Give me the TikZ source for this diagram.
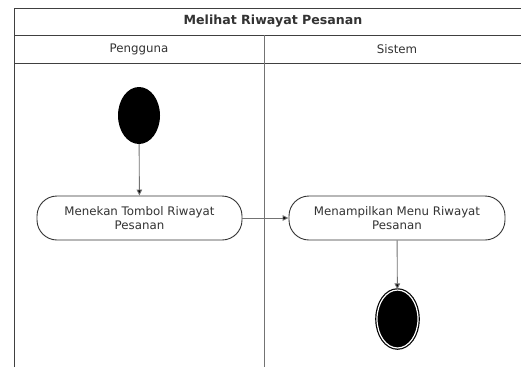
\documentclass[tikz,border=0pt]{standalone}
\usepackage{fontspec}
\setmainfont{DejaVu Sans}
\usetikzlibrary{arrows.meta,shapes.geometric}
\begin{document}
\begin{tikzpicture}[x=1pt,y=-1pt,
  frame/.style={draw=black!75,line width=0.9pt},
  lane/.style={draw=black!55,line width=0.9pt},
  label/.style={text=black!80,font=\fontsize{11.8}{14}\selectfont},
  action/.style={draw=black!80,line width=0.9pt,rounded corners=20pt,minimum height=44pt,align=center,text=black!80,font=\fontsize{11.8}{14}\selectfont,inner sep=2pt},
  flow/.style={draw=black!55,line width=0.9pt,-{Triangle[length=6pt,width=5.5pt,fill=black]}},
  startnode/.style={ellipse,fill=black,minimum width=42pt,minimum height=57pt,inner sep=0pt},
  endnode/.style={ellipse,fill=black,draw=black,line width=1.2pt,double=white,double distance=1.2pt,minimum width=41pt,minimum height=58pt,inner sep=0pt}]
\useasboundingbox (0,0) rectangle (521,367);
\fill[white] (0,0) rectangle (521,367);
% swimlane frame
\draw[frame] (14,367) -- (14,8) -- (521,8);
\draw[frame] (14,35) -- (521,35);
\draw[frame] (14,63) -- (521,63);
\draw[lane] (264,35) -- (264,367);
\node[label,font=\bfseries\fontsize{12.6}{14}\selectfont] (title) at (273,21.5) {Melihat Riwayat Pesanan};
\node[label] (user) at (139,49) {Pengguna};
\node[label] (sys) at (397,49) {Sistem};
% activities
\node[startnode] (start) at (139,115.5) {};
\node[action,minimum width=205pt] (a1) at (139.5,218) {Menekan Tombol Riwayat\\Pesanan};
\node[action,minimum width=216pt] (a2) at (397,218) {Menampilkan Menu Riwayat\\Pesanan};
\node[endnode] (end) at (397.5,319) {};
% control flow
\draw[flow] (start) -- (a1);
\draw[flow] (a1) -- (a2);
\draw[flow] (a2) -- (end);
\end{tikzpicture}
\end{document}
